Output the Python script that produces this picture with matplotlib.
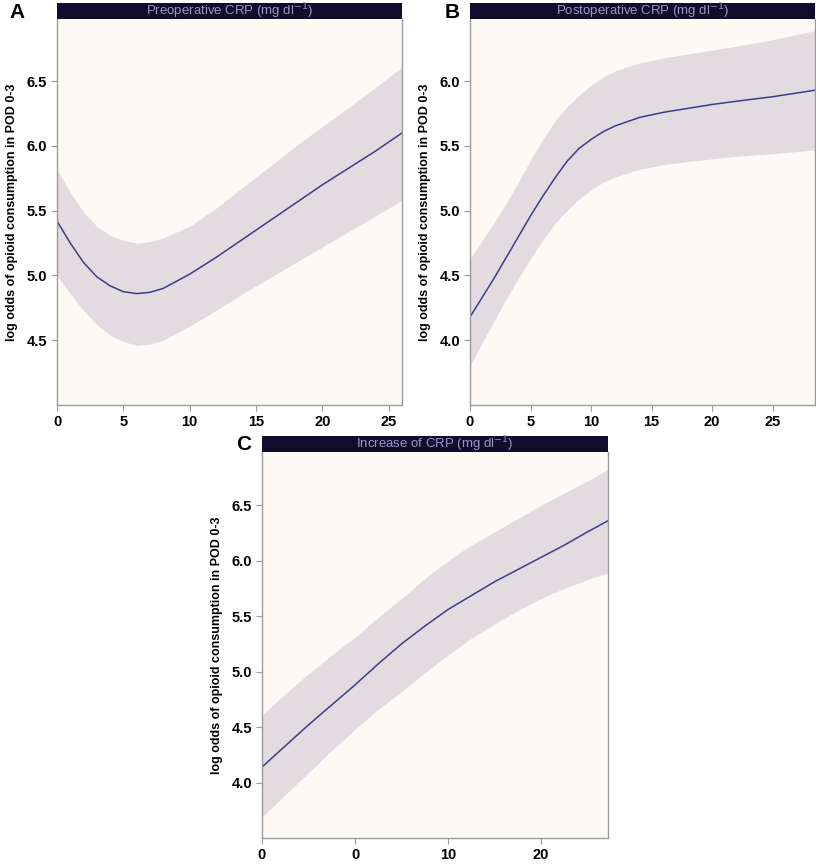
import numpy as np
import matplotlib
matplotlib.use("Agg")
import matplotlib.pyplot as plt

plt.rcParams['font.family'] = ['Liberation Sans', 'DejaVu Sans']

# --- dados ---
# A: CRP pre-operatoria
xa = [0, 1, 2, 3, 4, 5, 6, 7, 8, 10, 12, 14, 16, 18, 20, 22, 24, 26]
fit_a = [5.42, 5.25, 5.10, 4.99, 4.92, 4.875, 4.86, 4.87, 4.90, 5.01, 5.14, 5.28, 5.42, 5.56, 5.70, 5.83, 5.96, 6.10]
up_a = [5.82, 5.64, 5.49, 5.38, 5.31, 5.27, 5.25, 5.26, 5.29, 5.38, 5.52, 5.68, 5.84, 6.00, 6.15, 6.30, 6.45, 6.61]
lo_a = [5.00, 4.86, 4.73, 4.62, 4.54, 4.49, 4.46, 4.47, 4.50, 4.61, 4.73, 4.86, 4.98, 5.10, 5.22, 5.34, 5.46, 5.58]

# B: CRP pos-operatoria
xb = [0, 1, 2, 3, 4, 5, 6, 7, 8, 9, 10, 11, 12, 14, 16, 18, 20, 22, 25, 28.5]
fit_b = [4.18, 4.33, 4.48, 4.64, 4.80, 4.96, 5.11, 5.25, 5.38, 5.48, 5.55, 5.61, 5.655, 5.72, 5.76, 5.79, 5.82, 5.845, 5.88, 5.93]
up_b = [4.63, 4.77, 4.91, 5.06, 5.22, 5.39, 5.55, 5.69, 5.80, 5.89, 5.97, 6.03, 6.08, 6.14, 6.18, 6.21, 6.24, 6.27, 6.32, 6.39]
lo_b = [3.80, 3.98, 4.15, 4.32, 4.48, 4.63, 4.77, 4.90, 5.00, 5.09, 5.16, 5.22, 5.26, 5.32, 5.355, 5.38, 5.40, 5.42, 5.44, 5.47]

# C: aumento da CRP
xc = [-10, -7.5, -5, -2.5, 0, 2.5, 5, 7.5, 10, 12.5, 15, 17.5, 20, 22.5, 25, 27.2]
fit_c = [4.14, 4.33, 4.52, 4.70, 4.88, 5.07, 5.25, 5.41, 5.56, 5.685, 5.81, 5.92, 6.03, 6.14, 6.26, 6.36]
up_c = [4.61, 4.80, 4.98, 5.15, 5.31, 5.49, 5.66, 5.84, 6.00, 6.14, 6.26, 6.38, 6.50, 6.61, 6.72, 6.82]
lo_c = [3.69, 3.89, 4.09, 4.29, 4.48, 4.66, 4.82, 4.99, 5.15, 5.30, 5.43, 5.55, 5.66, 5.75, 5.83, 5.89]

# ticks
xticks_ab = [0, 5, 10, 15, 20, 25]
xticks_c = [-10, 0, 10, 20]
xticklabels_c = ['0', '0', '10', '20']   # como no original (sinal perdido)
yticks_a = [4.5, 5.0, 5.5, 6.0, 6.5]
yticks_b = [4.0, 4.5, 5.0, 5.5, 6.0]
yticks_c = [4.0, 4.5, 5.0, 5.5, 6.0, 6.5]

ylab = "log odds of opioid consumption in POD 0-3"

bg = "#fdf9f5"
band = "#e2dbe0"
linha = "#3b3f8a"
faixa = "#100c2e"
cinza = "#9a9a9a"

W, H = 816, 864
fig = plt.figure(figsize=(W / 100, H / 100), dpi=100)


def painel(left, top, right, bottom, x, fit, up, lo, xlim, ylim, xt, yt, titulo, letra, dx_letra, xtl=None):
    ax = fig.add_axes([left / W, 1 - bottom / H, (right - left) / W, (bottom - top) / H])
    ax.set_facecolor(bg)
    ax.fill_between(x, lo, up, color=band, lw=0)
    ax.plot(x, fit, color=linha, lw=1.1)
    ax.set_xlim(*xlim)
    ax.set_ylim(*ylim)
    ax.set_xticks(xt)
    if xtl is not None:
        ax.set_xticklabels(xtl)
    ax.set_yticks(yt)
    ax.set_yticklabels([f"{v:.1f}" for v in yt])
    for s in ['left', 'bottom', 'right']:
        ax.spines[s].set_color(cinza)
        ax.spines[s].set_linewidth(1.0)
    ax.spines['top'].set_visible(False)
    ax.tick_params(colors=cinza, length=4, width=0.8, labelcolor='black', labelsize=10.5, pad=3)
    for t in ax.get_xticklabels() + ax.get_yticklabels():
        t.set_fontweight('bold')
    ax.set_ylabel(ylab, fontsize=9, fontweight='bold', labelpad=6)

    # faixa do titulo
    st = fig.add_axes([left / W, 1 - top / H, (right - left) / W, 16 / H])
    st.set_facecolor(faixa)
    st.set_xticks([])
    st.set_yticks([])
    for s in st.spines.values():
        s.set_visible(False)
    st.text(0.5, 0.5, titulo, ha='center', va='center', color='#9c95c4', fontsize=9.5,
            transform=st.transAxes)

    fig.text((left + dx_letra) / W, 1 - (top - 7) / H, letra, fontsize=15, fontweight='bold',
             ha='center', va='center')
    return ax


painel(57, 19, 402, 405, xa, fit_a, up_a, lo_a, (0, 26), (4.0, 6.98), xticks_ab, yticks_a,
       "Preoperative CRP (mg dl$^{-1}$)", "A", -40)
painel(470, 19, 815, 405, xb, fit_b, up_b, lo_b, (0, 28.5), (3.5, 6.48), xticks_ab, yticks_b,
       "Postoperative CRP (mg dl$^{-1}$)", "B", -18)
painel(262, 452, 608, 838, xc, fit_c, up_c, lo_c, (-10, 27.2), (3.5, 6.98), xticks_c, yticks_c,
       "Increase of CRP (mg dl$^{-1}$)", "C", -18, xtl=xticklabels_c)

fig.savefig("out.png", dpi=100)
